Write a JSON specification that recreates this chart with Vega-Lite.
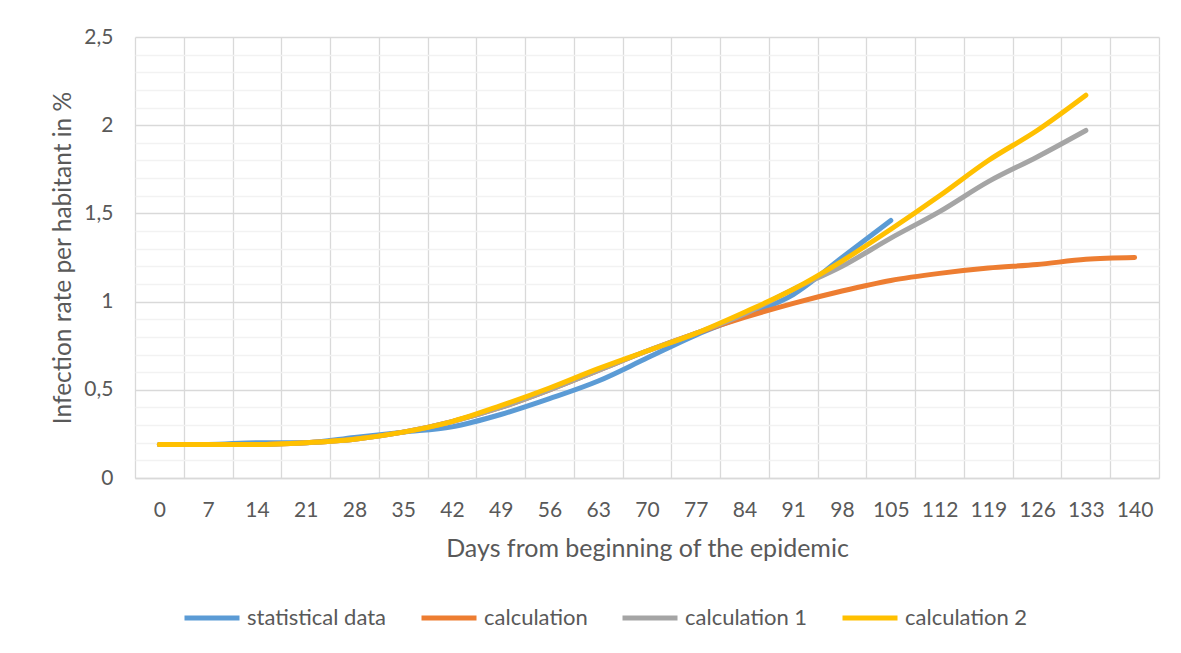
{
  "$schema": "https://vega.github.io/schema/vega-lite/v6.json",
  "width": 1024,
  "height": 441,
  "autosize": {"type": "none"},
  "padding": {"left": 135, "top": 37, "right": 22, "bottom": 175},
  "background": "white",
  "config": {"view": {"stroke": null}, "font": "Lato"},
  "datasets": {
    "rows": [
      {"series": "statistical data", "day": 0, "value": 0.19},
      {"series": "statistical data", "day": 7, "value": 0.19},
      {"series": "statistical data", "day": 14, "value": 0.2},
      {"series": "statistical data", "day": 21, "value": 0.2},
      {"series": "statistical data", "day": 28, "value": 0.23},
      {"series": "statistical data", "day": 35, "value": 0.26},
      {"series": "statistical data", "day": 42, "value": 0.29},
      {"series": "statistical data", "day": 49, "value": 0.36},
      {"series": "statistical data", "day": 56, "value": 0.45},
      {"series": "statistical data", "day": 63, "value": 0.55},
      {"series": "statistical data", "day": 70, "value": 0.68},
      {"series": "statistical data", "day": 77, "value": 0.81},
      {"series": "statistical data", "day": 84, "value": 0.92},
      {"series": "statistical data", "day": 91, "value": 1.04},
      {"series": "statistical data", "day": 98, "value": 1.25},
      {"series": "statistical data", "day": 105, "value": 1.46},
      {"series": "calculation", "day": 0, "value": 0.19},
      {"series": "calculation", "day": 7, "value": 0.19},
      {"series": "calculation", "day": 14, "value": 0.19},
      {"series": "calculation", "day": 21, "value": 0.2},
      {"series": "calculation", "day": 28, "value": 0.22},
      {"series": "calculation", "day": 35, "value": 0.26},
      {"series": "calculation", "day": 42, "value": 0.32},
      {"series": "calculation", "day": 49, "value": 0.4},
      {"series": "calculation", "day": 56, "value": 0.5},
      {"series": "calculation", "day": 63, "value": 0.61},
      {"series": "calculation", "day": 70, "value": 0.72},
      {"series": "calculation", "day": 77, "value": 0.82},
      {"series": "calculation", "day": 84, "value": 0.91},
      {"series": "calculation", "day": 91, "value": 0.99},
      {"series": "calculation", "day": 98, "value": 1.06},
      {"series": "calculation", "day": 105, "value": 1.12},
      {"series": "calculation", "day": 112, "value": 1.16},
      {"series": "calculation", "day": 119, "value": 1.19},
      {"series": "calculation", "day": 126, "value": 1.21},
      {"series": "calculation", "day": 133, "value": 1.24},
      {"series": "calculation", "day": 140, "value": 1.25},
      {"series": "calculation 1", "day": 0, "value": 0.19},
      {"series": "calculation 1", "day": 7, "value": 0.19},
      {"series": "calculation 1", "day": 14, "value": 0.19},
      {"series": "calculation 1", "day": 21, "value": 0.2},
      {"series": "calculation 1", "day": 28, "value": 0.22},
      {"series": "calculation 1", "day": 35, "value": 0.26},
      {"series": "calculation 1", "day": 42, "value": 0.32},
      {"series": "calculation 1", "day": 49, "value": 0.4},
      {"series": "calculation 1", "day": 56, "value": 0.5},
      {"series": "calculation 1", "day": 63, "value": 0.61},
      {"series": "calculation 1", "day": 70, "value": 0.72},
      {"series": "calculation 1", "day": 77, "value": 0.82},
      {"series": "calculation 1", "day": 84, "value": 0.93},
      {"series": "calculation 1", "day": 91, "value": 1.07},
      {"series": "calculation 1", "day": 98, "value": 1.2},
      {"series": "calculation 1", "day": 105, "value": 1.36},
      {"series": "calculation 1", "day": 112, "value": 1.51},
      {"series": "calculation 1", "day": 119, "value": 1.68},
      {"series": "calculation 1", "day": 126, "value": 1.82},
      {"series": "calculation 1", "day": 133, "value": 1.97},
      {"series": "calculation 2", "day": 0, "value": 0.19},
      {"series": "calculation 2", "day": 7, "value": 0.19},
      {"series": "calculation 2", "day": 14, "value": 0.19},
      {"series": "calculation 2", "day": 21, "value": 0.2},
      {"series": "calculation 2", "day": 28, "value": 0.22},
      {"series": "calculation 2", "day": 35, "value": 0.26},
      {"series": "calculation 2", "day": 42, "value": 0.32},
      {"series": "calculation 2", "day": 49, "value": 0.41},
      {"series": "calculation 2", "day": 56, "value": 0.51},
      {"series": "calculation 2", "day": 63, "value": 0.62},
      {"series": "calculation 2", "day": 70, "value": 0.72},
      {"series": "calculation 2", "day": 77, "value": 0.82},
      {"series": "calculation 2", "day": 84, "value": 0.94},
      {"series": "calculation 2", "day": 91, "value": 1.07},
      {"series": "calculation 2", "day": 98, "value": 1.23},
      {"series": "calculation 2", "day": 105, "value": 1.41},
      {"series": "calculation 2", "day": 112, "value": 1.6},
      {"series": "calculation 2", "day": 119, "value": 1.8},
      {"series": "calculation 2", "day": 126, "value": 1.97},
      {"series": "calculation 2", "day": 133, "value": 2.17}
    ]
  },
  "data": {"name": "rows"},
  "mark": {"type": "line", "interpolate": "monotone", "strokeWidth": 5, "strokeCap": "round", "strokeJoin": "round"},
  "encoding": {
    "x": {
      "field": "day",
      "type": "ordinal",
      "bandPosition": 0.5,
      "scale": {"type": "band", "paddingInner": 0, "paddingOuter": 0},
      "axis": {
        "title": "Days from beginning of the epidemic",
        "labelAngle": 0,
        "tickBand": "extent",
        "grid": true,
        "gridColor": "#D9D9D9",
        "gridWidth": 1.3,
        "ticks": false,
        "domainColor": "#D9D9D9",
        "domainWidth": 1.3,
        "labelFontSize": 21,
        "labelColor": "#595959",
        "labelPadding": 21,
        "titleFontSize": 25,
        "titleColor": "#595959",
        "titleFontWeight": "normal",
        "titlePadding": 16
      }
    },
    "y": {
      "field": "value",
      "type": "quantitative",
      "scale": {"domain": [0, 2.5], "nice": false, "zero": true},
      "axis": {
        "title": "Infection rate per habitant in %",
        "values": [0, 0.1, 0.2, 0.3, 0.4, 0.5, 0.6, 0.7, 0.8, 0.9, 1, 1.1, 1.2, 1.3, 1.4, 1.5, 1.6, 1.7, 1.8, 1.9, 2, 2.1, 2.2, 2.3, 2.4, 2.5],
        "labelExpr": "abs(datum.value*2-round(datum.value*2))<0.001 ? replace(format(datum.value,'.1~f'),'.',',') : ''",
        "labelOverlap": false,
        "grid": true,
        "gridColor": {"condition": {"test": "abs(datum.value*2-round(datum.value*2))<0.001", "value": "#D9D9D9"}, "value": "#F2F2F2"},
        "gridWidth": 1.3,
        "domain": false,
        "ticks": false,
        "labelFontSize": 21,
        "labelColor": "#595959",
        "labelPadding": 22,
        "titleFontSize": 24.5,
        "titleColor": "#595959",
        "titleFontWeight": "normal",
        "titlePadding": 8
      }
    },
    "color": {
      "field": "series",
      "type": "nominal",
      "sort": ["statistical data", "calculation", "calculation 1", "calculation 2"],
      "scale": {
        "domain": ["statistical data", "calculation", "calculation 1", "calculation 2"],
        "range": ["#5B9BD5", "#ED7D31", "#A5A5A5", "#FFC000"]
      },
      "legend": {
        "title": null,
        "orient": "none",
        "direction": "horizontal",
        "legendX": 47,
        "legendY": 551,
        "symbolType": "stroke",
        "symbolStrokeWidth": 5,
        "symbolSize": 3025,
        "labelFontSize": 22,
        "labelColor": "#595959",
        "labelOffset": 5,
        "columnPadding": 24
      }
    }
  }
}
